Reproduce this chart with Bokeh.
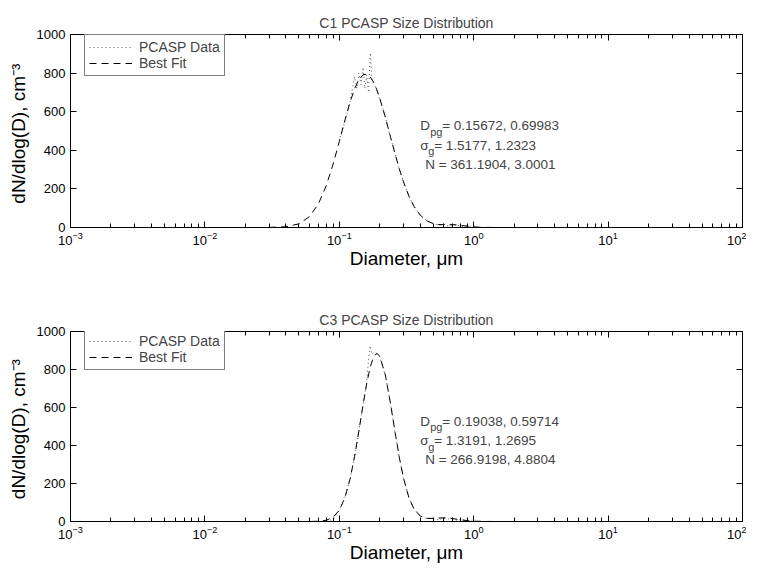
import math
from bokeh.plotting import figure
from bokeh.models import (Range1d, FixedTicker, LogAxis, LinearAxis, Label,
                          Legend, LegendItem)
from bokeh.layouts import column
from bokeh.embed import file_html
from bokeh.resources import INLINE

FONT = "Liberation Sans"

# ---------------- data ----------------
x_major_ticks = [1e-3, 1e-2, 1e-1, 1e0, 1e1, 1e2]
y_ticks = [0, 200, 400, 600, 800, 1000]

titles = ["C1 PCASP Size Distribution", "C3 PCASP Size Distribution"]
legend_labels = ["PCASP Data", "Best Fit"]
x_label = "Diameter, \u03bcm"
y_label = "dN/dlog(D),  cm\u207b\u00b3"

c1_data_d = [0.10, 0.11, 0.12, 0.13, 0.135, 0.14, 0.145, 0.15, 0.155, 0.16, 0.165, 0.17,
             0.175, 0.18, 0.19, 0.20, 0.22, 0.24, 0.26, 0.28, 0.30, 0.33, 0.36, 0.40,
             0.45, 0.50, 0.55, 0.60, 0.65, 0.70, 0.75, 0.80, 0.90, 1.0]
c1_data_v = [450, 550, 650, 780, 720, 800, 740, 830, 720, 790, 700, 905,
             770, 750, 710, 665, 575, 470, 385, 300, 240, 160, 110, 62,
             35, 20, 10, 18, 6, 16, 15, 4, 10, 3]

c1_fit_d = [0.03, 0.04, 0.05, 0.06, 0.07, 0.08, 0.09, 0.10, 0.11, 0.12, 0.13, 0.14,
            0.15, 0.16, 0.17, 0.18, 0.19, 0.20, 0.22, 0.24, 0.26, 0.28, 0.30, 0.33,
            0.36, 0.40, 0.45, 0.50, 0.55, 0.60, 0.65, 0.70, 0.80, 0.90, 1.0, 1.2, 1.5, 2.0]
c1_fit_v = [0.3, 3.8, 18.7, 56.4, 123, 217, 329, 445, 555, 648, 719, 767,
            791, 794, 780, 752, 715, 670, 571, 472, 381, 302, 237, 162,
            109, 64.2, 33.9, 20.2, 15.4, 14.6, 14.8, 14.5, 11.2, 6.4, 3.1, 0.5, 0.0, 0.0]

c3_data_d = [0.08, 0.09, 0.10, 0.11, 0.12, 0.13, 0.14, 0.15, 0.16, 0.165, 0.17, 0.175,
             0.18, 0.19, 0.20, 0.22, 0.24, 0.26, 0.28, 0.30, 0.33, 0.36, 0.40, 0.45,
             0.50, 0.55, 0.60, 0.65, 0.70, 0.75, 0.80, 0.90, 1.0]
c3_data_v = [4, 10, 60, 125, 220, 340, 480, 610, 730, 860, 925, 880,
             890, 880, 865, 770, 625, 470, 335, 230, 125, 65, 30, 15,
             18, 8, 20, 14, 16, 6, 12, 5, 2]

c3_fit_d = [0.05, 0.06, 0.07, 0.08, 0.09, 0.10, 0.11, 0.12, 0.13, 0.14, 0.15, 0.16,
            0.17, 0.18, 0.19, 0.20, 0.22, 0.24, 0.26, 0.28, 0.30, 0.33, 0.36, 0.40,
            0.45, 0.50, 0.55, 0.60, 0.65, 0.70, 0.80, 0.90, 1.0, 1.2, 1.5, 2.0]
c3_fit_v = [0.0, 0.2, 1.3, 6.6, 22.8, 59.4, 124.7, 221, 343, 478, 611, 727,
            814, 867, 885, 871, 772, 624, 470, 335, 230, 123.5, 64.8, 28.9,
            16.4, 16.3, 18.3, 18.95, 17.6, 15.1, 8.9, 4.3, 1.8, 0.3, 0.0, 0.0]

c1_params = ["= 0.15672, 0.69983", "= 1.5177, 1.2323", "N = 361.1904, 3.0001"]
c3_params = ["= 0.19038, 0.59714", "= 1.3191, 1.2695", "N = 266.9198, 4.8804"]

# annotation anchor (data units) and line centres
text_x = 0.40
text_rows = [528, 425, 326]

minor_x = [m * 10.0 ** e for e in range(-3, 2) for m in range(2, 10)]


def style_axis(ax, show_labels=True):
    ax.axis_line_color = "black"
    ax.axis_line_width = 1
    ax.major_tick_in = 6
    ax.major_tick_out = 0
    ax.minor_tick_in = 4
    ax.minor_tick_out = 0
    ax.major_tick_line_color = "black"
    ax.minor_tick_line_color = "black"
    ax.major_label_text_font = FONT
    ax.major_label_text_color = "black"
    ax.axis_label_text_font = FONT
    ax.axis_label_text_font_style = "normal"
    ax.axis_label_text_color = "black"
    if show_labels:
        ax.major_label_text_font_size = "13px"
    else:
        ax.major_label_text_font_size = "1px"
        ax.major_label_text_color = None
        ax.major_label_standoff = 0


def build(title, dd, dv, fd, fv, params, height, b_bottom):
    p = figure(width=746, height=height, x_axis_type="log",
               x_range=Range1d(1e-3, 1e2), y_range=Range1d(0, 1000),
               output_backend="svg", toolbar_location=None,
               min_border_left=70, min_border_right=4,
               min_border_top=34, min_border_bottom=b_bottom, title=title)
    p.background_fill_color = "white"
    p.border_fill_color = "white"
    p.outline_line_color = None
    p.grid.visible = False
    p.title.text_font = FONT
    p.title.text_font_size = "14px"
    p.title.text_font_style = "normal"
    p.title.align = "center"
    p.title.standoff = 7

    xa = p.xaxis[0]
    xa.ticker = FixedTicker(ticks=x_major_ticks, minor_ticks=minor_x)
    style_axis(xa)
    xa.major_label_standoff = 4
    xa.axis_label = x_label
    xa.axis_label_text_font_size = "19px"
    xa.axis_label_standoff = 0

    ya = p.yaxis[0]
    ya.ticker = FixedTicker(ticks=y_ticks)
    style_axis(ya)
    ya.minor_tick_line_color = None
    ya.major_label_standoff = 5
    ya.axis_label = y_label
    ya.axis_label_text_font_size = "19px"
    ya.axis_label_standoff = 5

    top_ax = LogAxis(ticker=FixedTicker(ticks=x_major_ticks, minor_ticks=minor_x))
    style_axis(top_ax, show_labels=False)
    p.add_layout(top_ax, "above")
    right_ax = LinearAxis(ticker=FixedTicker(ticks=y_ticks))
    style_axis(right_ax, show_labels=False)
    right_ax.minor_tick_line_color = None
    p.add_layout(right_ax, "right")

    r_data = p.line(dd, dv, line_color="#555555", line_width=1, line_dash="1 3")
    r_fit = p.line(fd, fv, line_color="black", line_width=1, line_dash="7 5")

    leg = Legend(items=[LegendItem(label=legend_labels[0], renderers=[r_data]),
                        LegendItem(label=legend_labels[1], renderers=[r_fit])],
                 location=(14, 151), orientation="vertical", padding=4, spacing=0,
                 margin=0, label_text_font=FONT, label_text_font_size="14px",
                 label_height=16, glyph_height=16, glyph_width=43, label_standoff=7,
                 border_line_color="black", border_line_width=1,
                 background_fill_color="white", background_fill_alpha=1)
    p.add_layout(leg)

    fs = "13.5px"
    sub = "11px"
    # D_pg line
    p.add_layout(Label(x=text_x, y=text_rows[0], text="D", text_font=FONT, text_font_size=fs,
                       text_baseline="middle"))
    p.add_layout(Label(x=text_x, y=text_rows[0], x_offset=10, y_offset=-6, text="pg",
                       text_font=FONT, text_font_size=sub, text_baseline="middle"))
    p.add_layout(Label(x=text_x, y=text_rows[0], x_offset=22, text=params[0], text_font=FONT,
                       text_font_size=fs, text_baseline="middle"))
    # sigma_g line
    p.add_layout(Label(x=text_x, y=text_rows[1], text="\u03c3", text_font=FONT, text_font_size=fs,
                       text_baseline="middle"))
    p.add_layout(Label(x=text_x, y=text_rows[1], x_offset=8, y_offset=-6, text="g",
                       text_font=FONT, text_font_size=sub, text_baseline="middle"))
    p.add_layout(Label(x=text_x, y=text_rows[1], x_offset=14, text=params[1], text_font=FONT,
                       text_font_size=fs, text_baseline="middle"))
    # N line
    p.add_layout(Label(x=text_x, y=text_rows[2], x_offset=5, text=params[2], text_font=FONT,
                       text_font_size=fs, text_baseline="middle"))
    return p


p1 = build(titles[0], c1_data_d, c1_data_v, c1_fit_d, c1_fit_v, c1_params, 297, 70)
p2 = build(titles[1], c3_data_d, c3_data_v, c3_fit_d, c3_fit_v, c3_params, 268, 42)

layout = column(p1, p2)
open("out.html", "w").write(file_html(layout, INLINE))
